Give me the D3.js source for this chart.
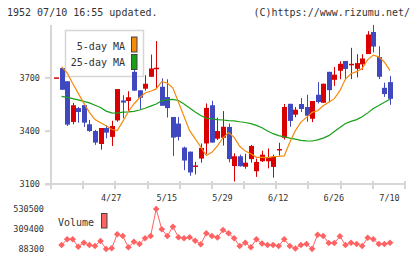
<!DOCTYPE html>
<html>
<head>
<meta charset="utf-8">
<script src="https://cdn.jsdelivr.net/npm/d3@7"></script>
<style>
  html, body { margin: 0; padding: 0; background: #fff; }
  svg text { font-family: "DejaVu Sans Mono", monospace; fill: #333; }
</style>
</head>
<body>
<div id="chart"></div>
<script>
// trading days shown (4/13 .. 7/10)
const dates = ["4/13","4/14","4/15","4/16","4/17","4/20","4/21","4/22","4/23","4/24",
  "4/27","4/28","4/30","5/1","5/7","5/8","5/11","5/12","5/13","5/14",
  "5/15","5/18","5/19","5/20","5/21","5/22","5/25","5/26","5/27","5/28",
  "5/29","6/1","6/2","6/3","6/4","6/5","6/8","6/9","6/10","6/11",
  "6/12","6/15","6/16","6/17","6/18","6/19","6/22","6/23","6/24","6/25",
  "6/26","6/29","6/30","7/1","7/2","7/3","7/6","7/7","7/8","7/9","7/10"];
const dateLabels = ["4/27","5/15","5/29","6/12","6/26","7/10"];

const opens  = [3700,3752,3678,3449,3527,3544,3436,3398,3325,3415,3365,3458,3570,3567,3731,3627,3636,3703,3750,3647,
  3589,3477,3440,3305,3282,3198,3243,3328,3543,3355,3360,3421,3201,3256,3197,3240,3172,3228,3228,3196,
  3292,3360,3551,3490,3550,3533,3467,3602,3557,3731,3686,3737,3792,3772,3748,3773,3831,3955,3814,3641,3673];
const highs  = [3700,3752,3678,3556,3533,3544,3460,3404,3415,3430,3456,3634,3600,3622,3782,3627,3712,3828,3904,3694,
  3689,3477,3477,3310,3282,3225,3328,3553,3568,3473,3510,3440,3273,3265,3270,3320,3243,3287,3300,3265,
  3332,3550,3551,3533,3584,3602,3567,3673,3664,3731,3758,3790,3792,3866,3830,3830,3960,3995,3875,3670,3707];
const lows   = [3700,3630,3426,3436,3445,3421,3393,3320,3293,3357,3314,3450,3470,3505,3625,3520,3625,3703,3640,3540,
  3474,3258,3345,3178,3146,3154,3220,3268,3333,3347,3316,3222,3114,3198,3186,3220,3140,3224,3188,3136,
  3260,3350,3422,3476,3505,3450,3448,3553,3557,3560,3652,3689,3690,3690,3700,3742,3831,3840,3690,3590,3545];
const closes = [3700,3630,3434,3543,3505,3445,3398,3333,3415,3389,3426,3634,3558,3588,3625,3585,3664,3750,3754,3540,
  3527,3361,3365,3232,3165,3204,3303,3528,3333,3398,3422,3240,3256,3200,3220,3314,3224,3265,3248,3252,
  3297,3533,3455,3518,3522,3484,3567,3561,3664,3628,3715,3776,3747,3776,3780,3806,3941,3873,3703,3606,3579];

const ma5 = [null,3760,3725,3665,3610,3555,3503,3462,3445,3428,3408,3400,3452,3508,3550,3585,3612,3622,3635,3676,
  3668,3640,3560,3480,3400,3355,3308,3260,3278,3315,3360,3390,3362,3312,3285,3270,3250,3250,3248,3254,
  3255,3258,3335,3400,3448,3475,3503,3512,3540,3560,3580,3625,3690,3720,3732,3750,3800,3825,3815,3785,3738];
const ma25 = [null,3593,3587,3580,3573,3565,3556,3543,3530,3510,3500,3499,3504,3506,3509,3516,3526,3538,3550,3568,
  3575,3576,3570,3550,3527,3505,3485,3470,3466,3462,3460,3457,3455,3450,3446,3440,3430,3416,3398,3383,
  3372,3365,3358,3352,3345,3343,3342,3348,3358,3372,3395,3418,3440,3452,3462,3478,3500,3525,3542,3560,3577];

const volumes = [null,132500,195500,195500,113700,158000,132500,121500,176700,88300,96000,250800,232000,107100,169000,143600,206600,232000,530500,306100,
  232000,334800,217600,206600,217600,180100,140300,261900,232000,215400,298300,261900,206600,121500,158000,107100,195500,149100,132500,132500,
  121500,196600,121500,93800,132500,143600,90000,246400,232000,154600,154600,228700,132500,156800,143600,121500,213200,196600,143600,143600,158000];

const priceTicks = [3100, 3400, 3700];
const volumeTicks = [88300, 309400, 530500];

(function () {
  const W = 420, H = 259;
  const UP = "#d80000", DOWN = "#4048c0", AXIS = "#d6d6d6";
  const ORANGE = "#f58a0b", GREEN = "#18a018", VOL = "#ff6262";

  const svg = d3.select("#chart").append("svg")
    .attr("width", W).attr("height", H);

  const x = d3.scaleLinear().domain([0, dates.length - 1]).range([56, 390]);
  const y = d3.scaleLinear().domain([3100, 4000]).range([184, 24]);
  const yv = d3.scaleLinear().domain([88300, 530500]).range([249, 209]);
  const cx = i => Math.round(x(i));

  // header texts
  svg.append("text").attr("x", 7).attr("y", 16).attr("font-size", 10)
    .text("1952 07/10 16:55 updated.");
  svg.append("text").attr("x", 410).attr("y", 16).attr("font-size", 10)
    .attr("text-anchor", "end").text("(C)https://www.rizumu.net/");

  // legend box (behind the candles)
  svg.append("rect")
    .attr("x", 65.5).attr("y", 30.5).attr("width", 78).attr("height", 46)
    .attr("fill", "#fff").attr("stroke", AXIS).attr("stroke-width", 1.5);

  // ---------- axes ----------
  svg.append("line").attr("x1", 51).attr("x2", 51).attr("y1", 25).attr("y2", 189)
    .attr("stroke", AXIS).attr("stroke-width", 2);
  svg.append("line").attr("x1", 45).attr("x2", 405).attr("y1", 184).attr("y2", 184)
    .attr("stroke", AXIS).attr("stroke-width", 2);

  const yAxis = svg.append("g").attr("transform", "translate(51,0)")
    .call(d3.axisLeft(y).tickValues(priceTicks).tickFormat(d3.format("d"))
      .tickSize(6).tickPadding(5));
  yAxis.select(".domain").remove();
  yAxis.selectAll("line").attr("stroke", AXIS).attr("stroke-width", 2);
  yAxis.selectAll("text").attr("font-size", 8.5).attr("font-family", null).attr("fill", "#333");

  // regular tick marks along the bottom
  const grid = d3.scaleLinear().domain([0, 11]).range([51, 405]);
  svg.append("g").selectAll("line").data(d3.range(12)).enter().append("line")
    .attr("x1", d => Math.round(grid(d))).attr("x2", d => Math.round(grid(d)))
    .attr("y1", 181).attr("y2", 189)
    .attr("stroke", AXIS).attr("stroke-width", 2);

  const xAxis = svg.append("g").attr("transform", "translate(0,184)")
    .call(d3.axisBottom(x)
      .tickValues(dateLabels.map(d => dates.indexOf(d)))
      .tickFormat(i => dates[i])
      .tickSize(0).tickPadding(11));
  xAxis.select(".domain").remove();
  xAxis.selectAll("text").attr("font-size", 8.5).attr("font-family", null)
    .attr("fill", "#333").attr("dx", -1);

  // ---------- candles ----------
  const idx = d3.range(dates.length);
  const candles = svg.append("g");
  candles.selectAll("line").data(idx).enter().append("line")
    .attr("x1", i => cx(i) + 0.5).attr("x2", i => cx(i) + 0.5)
    .attr("y1", i => y(highs[i])).attr("y2", i => y(lows[i]))
    .attr("stroke", i => closes[i] >= opens[i] ? UP : DOWN)
    .attr("stroke-width", 1);
  candles.selectAll("rect").data(idx).enter().append("rect")
    .attr("x", i => cx(i) - 2)
    .attr("width", 5)
    .attr("y", i => y(Math.max(opens[i], closes[i])))
    .attr("height", i => Math.max(1.5, Math.abs(y(opens[i]) - y(closes[i]))))
    .attr("fill", i => closes[i] >= opens[i] ? UP : DOWN);

  // moving averages
  const maLine = arr => d3.line()
    .defined(i => arr[i] != null)
    .x(i => x(i)).y(i => y(arr[i]));
  svg.append("path").datum(idx).attr("fill", "none")
    .attr("stroke", GREEN).attr("stroke-width", 1.2).attr("d", maLine(ma25));
  svg.append("path").datum(idx).attr("fill", "none")
    .attr("stroke", ORANGE).attr("stroke-width", 1.2).attr("d", maLine(ma5));

  // legend contents
  const legend = [["5-day MA", ORANGE, 49.5, 37], ["25-day MA", GREEN, 66, 54.5]];
  legend.forEach(([label, col, ty, ry]) => {
    svg.append("text").attr("x", 125).attr("y", ty).attr("font-size", 10)
      .attr("text-anchor", "end").text(label);
    svg.append("rect").attr("x", 131.5).attr("y", ry).attr("width", 5.5).attr("height", 15)
      .attr("fill", col).attr("stroke", "#444").attr("stroke-width", 1);
  });

  // ---------- volume ----------
  const vAxis = svg.append("g").attr("transform", "translate(44,0)")
    .call(d3.axisLeft(yv).tickValues(volumeTicks).tickFormat(d3.format("d")).tickSize(0).tickPadding(0));
  vAxis.select(".domain").remove();
  vAxis.selectAll("text").attr("font-size", 8.5).attr("font-family", null).attr("fill", "#333");

  svg.append("text").attr("x", 58).attr("y", 226).attr("font-size", 10).text("Volume");
  svg.append("rect").attr("x", 101.5).attr("y", 213.5).attr("width", 5.5).attr("height", 14.5)
    .attr("fill", VOL).attr("stroke", "#444").attr("stroke-width", 1);

  const vIdx = idx.filter(i => volumes[i] != null);
  svg.append("path").datum(vIdx).attr("fill", "none")
    .attr("stroke", VOL).attr("stroke-width", 1)
    .attr("d", d3.line().x(i => x(i)).y(i => yv(volumes[i])));
  svg.append("g").attr("fill", VOL).selectAll("path").data(vIdx).enter().append("path")
    .attr("transform", i => `translate(${x(i)},${yv(volumes[i])}) rotate(45)`)
    .attr("d", d3.symbol(d3.symbolSquare, 22));
})();
</script>
</body>
</html>
